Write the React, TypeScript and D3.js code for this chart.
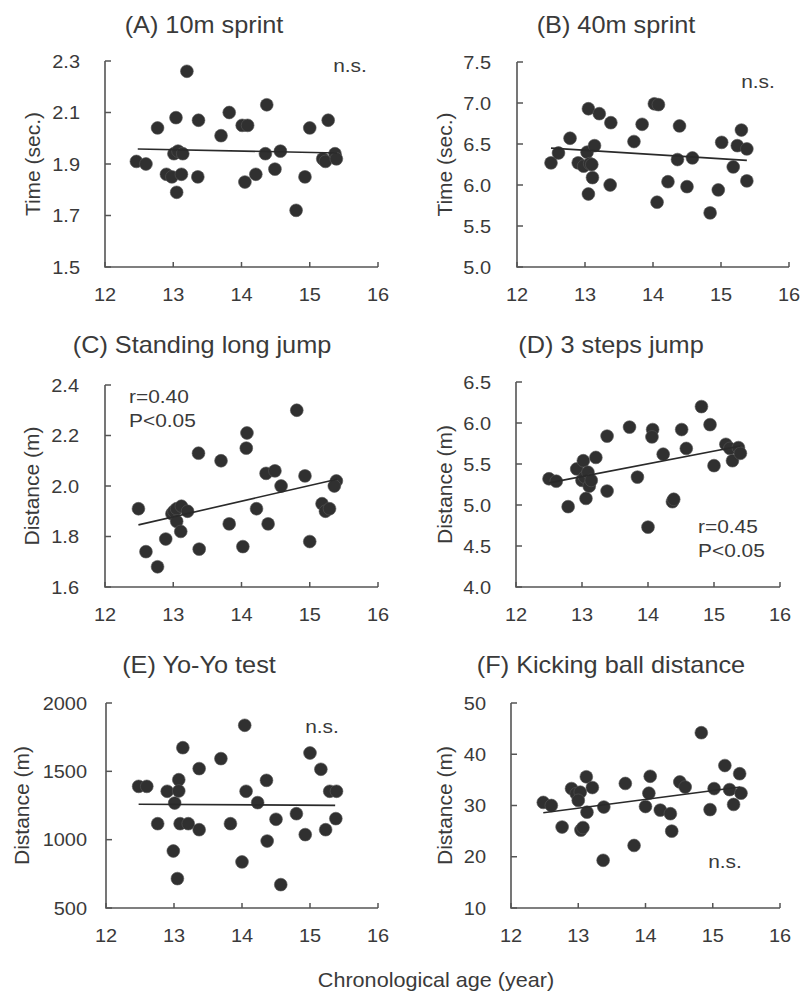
import React from "react";
import * as d3 from "d3";

// ---- data ----
const xTicks = [12, 13, 14, 15, 16];

const titleA = "(A) 10m sprint";
const yLabelA = "Time (sec.)";
const yTicksA = [1.5, 1.7, 1.9, 2.1, 2.3];
const ageA = [12.46, 12.6, 12.77, 12.9, 12.98, 13.04, 13.01, 13.07, 13.14, 13.05, 13.12, 13.2, 13.37, 13.36, 13.7, 13.82, 14.01, 14.09, 14.05, 14.21, 14.37, 14.35, 14.49, 14.57, 14.8, 14.93, 15.0, 15.19, 15.23, 15.27, 15.37, 15.39];
const valA = [1.91, 1.9, 2.04, 1.86, 1.85, 2.08, 1.94, 1.95, 1.94, 1.79, 1.86, 2.26, 2.07, 1.85, 2.01, 2.1, 2.05, 2.05, 1.83, 1.86, 2.13, 1.94, 1.88, 1.95, 1.72, 1.85, 2.04, 1.92, 1.91, 2.07, 1.94, 1.92];
const fitA = [[12.48, 1.958], [15.4, 1.943]];
const statA = ["n.s."];

const titleB = "(B) 40m sprint";
const yLabelB = "Time (sec.)";
const yTicksB = [5.0, 5.5, 6.0, 6.5, 7.0, 7.5];
const ageB = [12.5, 12.61, 12.78, 12.9, 12.98, 13.03, 13.05, 13.07, 13.1, 13.14, 13.11, 13.05, 13.21, 13.38, 13.37, 13.72, 13.84, 14.02, 14.08, 14.06, 14.22, 14.39, 14.36, 14.5, 14.58, 14.84, 14.96, 15.01, 15.18, 15.24, 15.3, 15.38, 15.38];
const valB = [6.27, 6.39, 6.57, 6.27, 6.23, 6.4, 6.93, 6.26, 6.25, 6.48, 6.09, 5.89, 6.87, 6.76, 6.0, 6.53, 6.74, 6.99, 6.98, 5.79, 6.04, 6.72, 6.31, 5.98, 6.33, 5.66, 5.94, 6.52, 6.22, 6.48, 6.67, 6.44, 6.05];
const fitB = [[12.5, 6.45], [15.38, 6.3]];
const statB = ["n.s."];

const titleC = "(C) Standing long jump";
const yLabelC = "Distance (m)";
const yTicksC = [1.6, 1.8, 2.0, 2.2, 2.4];
const ageC = [12.49, 12.6, 12.77, 12.89, 12.98, 13.01, 13.05, 13.05, 13.12, 13.11, 13.21, 13.37, 13.38, 13.7, 13.82, 14.02, 14.07, 14.08, 14.22, 14.36, 14.39, 14.49, 14.58, 14.81, 14.93, 15.0, 15.18, 15.23, 15.29, 15.39, 15.36];
const valC = [1.91, 1.74, 1.68, 1.79, 1.89, 1.9, 1.91, 1.86, 1.92, 1.82, 1.9, 2.13, 1.75, 2.1, 1.85, 1.76, 2.15, 2.21, 1.91, 2.05, 1.85, 2.06, 2.0, 2.3, 2.04, 1.78, 1.93, 1.9, 1.91, 2.02, 2.0];
const fitC = [[12.49, 1.846], [15.4, 2.027]];
const statC = ["r=0.40", "P<0.05"];

const titleD = "(D) 3 steps jump";
const yLabelD = "Distance (m)";
const yTicksD = [4.0, 4.5, 5.0, 5.5, 6.0, 6.5];
const ageD = [12.5, 12.61, 12.79, 12.92, 13.02, 13.0, 13.04, 13.09, 13.11, 13.14, 13.06, 13.21, 13.38, 13.38, 13.72, 13.84, 14.0, 14.07, 14.06, 14.23, 14.37, 14.39, 14.51, 14.58, 14.81, 14.94, 15.0, 15.18, 15.24, 15.28, 15.37, 15.4];
const valD = [5.32, 5.29, 4.98, 5.44, 5.54, 5.3, 5.34, 5.4, 5.23, 5.3, 5.08, 5.58, 5.84, 5.17, 5.95, 5.34, 4.73, 5.92, 5.83, 5.62, 5.04, 5.07, 5.92, 5.69, 6.2, 5.98, 5.48, 5.74, 5.69, 5.54, 5.7, 5.63];
const fitD = [[12.5, 5.27], [15.4, 5.72]];
const statD = ["r=0.45", "P<0.05"];

const titleE = "(E) Yo-Yo test";
const yLabelE = "Distance (m)";
const yTicksE = [500, 1000, 1500, 2000];
const ageE = [12.48, 12.6, 12.76, 12.9, 13.01, 13.07, 13.07, 12.99, 13.05, 13.09, 13.13, 13.21, 13.37, 13.37, 13.69, 13.83, 14.0, 14.04, 14.06, 14.23, 14.36, 14.37, 14.5, 14.57, 14.8, 14.93, 15.0, 15.16, 15.23, 15.29, 15.39, 15.38];
const valE = [1390, 1390, 1117, 1354, 1268, 1439, 1356, 917, 715, 1117, 1673, 1117, 1520, 1073, 1593, 1117, 837, 1837, 1354, 1271, 1434, 990, 1149, 671, 1190, 1037, 1634, 1515, 1073, 1354, 1354, 1154];
const fitE = [[12.48, 1259], [15.37, 1251]];
const statE = ["n.s."];

const titleF = "(F) Kicking ball distance";
const yLabelF = "Distance (m)";
const yTicksF = [10, 20, 30, 40, 50];
const ageF = [12.48, 12.6, 12.76, 12.9, 12.97, 13.03, 13.0, 13.04, 13.07, 13.12, 13.13, 13.21, 13.38, 13.37, 13.7, 13.83, 14.0, 14.05, 14.07, 14.22, 14.37, 14.39, 14.51, 14.59, 14.83, 14.96, 15.02, 15.18, 15.25, 15.31, 15.4, 15.42];
const valF = [30.6, 30.0, 25.8, 33.3, 32.3, 32.6, 31.0, 25.2, 25.7, 35.6, 28.7, 33.5, 29.7, 19.3, 34.3, 22.2, 29.8, 32.4, 35.7, 29.1, 28.4, 25.0, 34.6, 33.6, 44.2, 29.2, 33.3, 37.8, 33.1, 30.2, 36.2, 32.4];
const fitF = [[12.48, 28.6], [15.41, 33.6]];
const statF = ["n.s."];

const xAxisLabel = "Chronological age (year)";

// ---- layout ----
const W = 803;
const H = 995;
const TEXT = "#3a3a3a";
const AXIS = "#555";
const DOT = "#303030";
const FONT = "'Liberation Sans', Arial, sans-serif";
const SX = 1.1;

type P = {
  title: string; yLabel: string; yTicks: number[]; ages: number[]; vals: number[];
  fit: number[][]; stat: string[]; fmt: string;
  box: { l: number; r: number; t: number; b: number };
  titleX: number; titleY: number; yLabelX: number; tickGap: number;
  statX: number; statY: number; statAnchor: string;
};

const panels: P[] = [
  { title: titleA, yLabel: yLabelA, yTicks: yTicksA, ages: ageA, vals: valA, fit: fitA, stat: statA, fmt: ".1f",
    box: { l: 105, r: 378, t: 61, b: 267 }, titleX: 204, titleY: 33, yLabelX: 33, tickGap: 25,
    statX: 350, statY: 72, statAnchor: "middle" },
  { title: titleB, yLabel: yLabelB, yTicks: yTicksB, ages: ageB, vals: valB, fit: fitB, stat: statB, fmt: ".1f",
    box: { l: 517, r: 789, t: 62, b: 267 }, titleX: 616, titleY: 33, yLabelX: 445, tickGap: 26,
    statX: 758, statY: 88, statAnchor: "middle" },
  { title: titleC, yLabel: yLabelC, yTicks: yTicksC, ages: ageC, vals: valC, fit: fitC, stat: statC, fmt: ".1f",
    box: { l: 105, r: 378, t: 385, b: 587 }, titleX: 202, titleY: 353, yLabelX: 32, tickGap: 26,
    statX: 129, statY: 403, statAnchor: "start" },
  { title: titleD, yLabel: yLabelD, yTicks: yTicksD, ages: ageD, vals: valD, fit: fitD, stat: statD, fmt: ".1f",
    box: { l: 516, r: 780, t: 382, b: 587 }, titleX: 611, titleY: 353, yLabelX: 445, tickGap: 25,
    statX: 698, statY: 533, statAnchor: "start" },
  { title: titleE, yLabel: yLabelE, yTicks: yTicksE, ages: ageE, vals: valE, fit: fitE, stat: statE, fmt: "d",
    box: { l: 106, r: 378, t: 703, b: 908 }, titleX: 199, titleY: 673, yLabelX: 22, tickGap: 19,
    statX: 322, statY: 733, statAnchor: "middle" },
  { title: titleF, yLabel: yLabelF, yTicks: yTicksF, ages: ageF, vals: valF, fit: fitF, stat: statF, fmt: "d",
    box: { l: 511, r: 780, t: 703, b: 908 }, titleX: 611, titleY: 673, yLabelX: 445, tickGap: 25,
    statX: 725, statY: 868, statAnchor: "middle" },
];

function SText(props: { x: number; y: number; size: number; anchor?: string; children: any; sx?: number }) {
  const { x, y, size, anchor = "middle", children, sx = SX } = props;
  return (
    <text transform={`translate(${x},${y}) scale(${sx},1)`} fontSize={size} textAnchor={anchor as any}
      fill={TEXT} fontFamily={FONT}>{children}</text>
  );
}

function Panel({ p }: { p: P }) {
  const { box } = p;
  const x = d3.scaleLinear().domain([12, 16]).range([box.l, box.r]);
  const y = d3.scaleLinear().domain([p.yTicks[0], p.yTicks[p.yTicks.length - 1]]).range([box.b, box.t]);
  const f = d3.format(p.fmt);
  const line = d3.line<number[]>().x((d) => x(d[0])).y((d) => y(d[1]));
  const pts = d3.zip(p.ages, p.vals) as number[][];
  return (
    <g>
      <SText x={p.titleX} y={p.titleY} size={23}>{p.title}</SText>
      {/* axes */}
      <path d={`M${box.l},${box.t}V${box.b}H${box.r}`} fill="none" stroke={AXIS} strokeWidth={1.6} />
      {p.yTicks.map((t) => (
        <g key={"y" + t}>
          <line x1={box.l} x2={box.l + 6} y1={y(t)} y2={y(t)} stroke={AXIS} strokeWidth={1.5} />
          <SText x={box.l - p.tickGap} y={y(t) + 6.5} size={19} anchor="end" sx={1.05}>{f(t)}</SText>
        </g>
      ))}
      {xTicks.map((t) => (
        <g key={"x" + t}>
          <line x1={x(t)} x2={x(t)} y1={box.b} y2={box.b - 5} stroke={AXIS} strokeWidth={1.5} />
          <SText x={x(t)} y={box.b + 34} size={19} sx={1.05}>{t}</SText>
        </g>
      ))}
      <text transform={`translate(${p.yLabelX + 7},${(box.t + box.b) / 2}) rotate(-90)`} fontSize={21}
        textAnchor="middle" fill={TEXT} fontFamily={FONT}>{p.yLabel}</text>
      {/* points */}
      {pts.map((d, i) => (
        <circle key={i} cx={x(d[0])} cy={y(d[1])} r={6.4} fill={DOT} stroke="#555" strokeWidth={0.6} />
      ))}
      <path d={line(p.fit) || ""} fill="none" stroke="#2a2a2a" strokeWidth={1.6} />
      {p.stat.map((s, i) => (
        <SText key={s} x={p.statX} y={p.statY + i * 24} size={19} anchor={p.statAnchor}>{s}</SText>
      ))}
    </g>
  );
}

export default function App() {
  return (
    <div style={{ position: "absolute", left: 0, top: 0 }}>
      <svg width={W} height={H} viewBox={`0 0 ${W} ${H}`} style={{ display: "block", background: "#fff" }}>
        <rect width={W} height={H} fill="#fff" />
        {panels.map((p, i) => <Panel key={i} p={p} />)}
        <SText x={436} y={987} size={20} sx={1.08}>{xAxisLabel}</SText>
      </svg>
    </div>
  );
}
